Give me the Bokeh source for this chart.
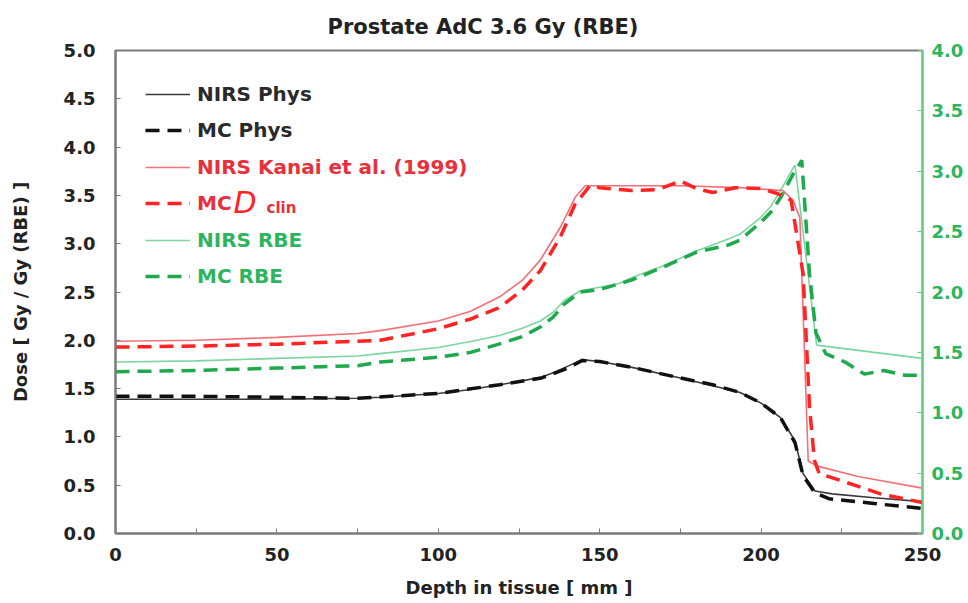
from bokeh.plotting import figure
from bokeh.models import (Range1d, LinearAxis, FixedTicker, Legend, LegendItem,
                          Label, NumeralTickFormatter)
from bokeh.embed import file_html
from bokeh.resources import INLINE

# ---------------- data ----------------
x_nirs_phys = [0, 25, 50, 75, 82, 100, 110, 119, 126, 132, 136, 140, 144.5, 150, 160, 175,
               185, 193.5, 200, 206, 210.5, 213, 216.7, 222, 235, 250]
y_nirs_phys = [1.39, 1.39, 1.39, 1.40, 1.41, 1.45, 1.49, 1.54, 1.58, 1.62, 1.67, 1.73, 1.80,
               1.78, 1.72, 1.61, 1.53, 1.46, 1.35, 1.20, 0.96, 0.62, 0.44, 0.41, 0.37, 0.33]

x_mc_phys = [0, 25, 50, 75, 100, 119, 132, 140, 144.5, 150, 160, 175, 185, 193.5, 200, 206,
             210.5, 213, 216.7, 221, 235, 250]
y_mc_phys = [1.42, 1.42, 1.41, 1.40, 1.45, 1.54, 1.61, 1.71, 1.79, 1.78, 1.72, 1.61, 1.54,
             1.46, 1.35, 1.20, 0.94, 0.60, 0.42, 0.36, 0.31, 0.26]

x_nirs_kanai = [0, 25, 50, 75, 82, 100, 110, 119, 126, 131.6, 137.8, 142.4, 145.5, 160, 175,
                193.5, 206.8, 209.9, 212, 214.6, 217.2, 230, 250]
y_nirs_kanai = [1.99, 2.00, 2.03, 2.07, 2.10, 2.20, 2.30, 2.45, 2.62, 2.83, 3.17, 3.48, 3.60,
                3.60, 3.60, 3.58, 3.55, 3.45, 3.27, 0.75, 0.70, 0.59, 0.47]

x_mc_dclin = [0, 25, 50, 75, 82, 100, 110, 119, 126, 131.6, 137.8, 142.4, 147, 150, 160, 168,
              175, 180, 185, 192, 200, 205, 209.3, 211.5, 213, 214, 215, 216.5, 218, 224.5,
              237, 250]
y_mc_dclin = [1.93, 1.94, 1.96, 1.99, 2.00, 2.12, 2.22, 2.34, 2.52, 2.72, 3.07, 3.41, 3.60,
              3.58, 3.55, 3.56, 3.65, 3.57, 3.53, 3.58, 3.57, 3.52, 3.45, 3.00, 2.69, 2.00,
              1.31, 0.76, 0.62, 0.55, 0.41, 0.32]

x_nirs_rbe = [0, 25, 50, 75, 82, 100, 110, 119, 126, 131.6, 135.5, 139, 144, 150, 156, 160,
              170, 180, 190, 193.5, 200, 203, 206, 210, 210.5, 217.2, 235, 250]
y_nirs_rbe = [1.42, 1.43, 1.45, 1.47, 1.49, 1.54, 1.59, 1.64, 1.70, 1.76, 1.83, 1.93, 2.01,
              2.04, 2.07, 2.12, 2.22, 2.34, 2.44, 2.48, 2.62, 2.71, 2.84, 3.03, 3.05, 1.56,
              1.50, 1.45]

x_mc_rbe = [0, 25, 50, 75, 82, 100, 110, 119, 126, 131.6, 135.5, 139, 144, 150, 160, 170, 180,
            190, 193.5, 200, 203, 206, 210, 212.6, 215, 217, 220, 226, 232, 238, 244.6, 250]
y_mc_rbe = [1.34, 1.35, 1.37, 1.39, 1.42, 1.46, 1.50, 1.57, 1.63, 1.71, 1.79, 1.90, 2.00, 2.02,
            2.10, 2.21, 2.33, 2.39, 2.43, 2.58, 2.66, 2.78, 2.98, 3.09, 2.15, 1.66, 1.49, 1.42,
            1.32, 1.35, 1.31, 1.31]

x_ticks = [0, 50, 100, 150, 200, 250]
x_minor_ticks = [25, 75, 125, 175, 225]
y_ticks = [0.0, 0.5, 1.0, 1.5, 2.0, 2.5, 3.0, 3.5, 4.0, 4.5, 5.0]
y2_ticks = [0.0, 0.5, 1.0, 1.5, 2.0, 2.5, 3.0, 3.5, 4.0]

title_text = "Prostate AdC 3.6 Gy (RBE)"
x_label = "Depth in tissue [ mm ]"
y_label = "Dose [ Gy / Gy (RBE) ]"

# ---------------- style ----------------
FONT = "DejaVu Sans"
GRAY = "#7a7a7a"
BLACK_SOLID = "#3a3a3a"
BLACK_DASH = "#111111"
RED_SOLID = "#f47078"
RED_DASH = "#ff2323"
RED_TEXT = "#e8303c"
GREEN_SOLID = "#7cd6a0"
GREEN_DASH = "#1fa84c"
GREEN_TEXT = "#2db55d"
GREEN_AXIS = "#66cc88"
DASH = "14 8"

p = figure(width=968, height=603, output_backend="svg", toolbar_location=None,
           x_range=Range1d(0, 250), y_range=Range1d(0, 5),
           min_border_left=115, min_border_right=46, min_border_top=50,
           min_border_bottom=70, y_axis_location=None, x_axis_location=None)
p.extra_y_ranges = {"rbe": Range1d(0, 4)}
p.xgrid.visible = False
p.ygrid.visible = False
p.outline_line_color = GRAY
p.outline_line_width = 2
p.background_fill_color = "white"
p.border_fill_color = "white"

# title
p.title.text = title_text
p.title.text_font = FONT
p.title.text_font_style = "bold"
p.title.text_font_size = "21px"
p.title.text_color = "#222222"
p.title.align = "left"
p.title.offset = 212
p.title.standoff = 24

def style_axis(ax, color, label_color):
    ax.axis_line_color = color
    ax.axis_line_width = 2
    ax.major_tick_line_color = color
    ax.minor_tick_line_color = color
    ax.major_tick_in = 5
    ax.major_tick_out = 0
    ax.minor_tick_in = 5
    ax.minor_tick_out = 0
    ax.major_label_text_font = FONT
    ax.major_label_text_font_style = "bold"
    ax.major_label_text_font_size = "18px"
    ax.major_label_text_color = label_color
    ax.axis_label_text_font = FONT
    ax.axis_label_text_font_style = "bold"
    ax.axis_label_text_font_size = "18px"
    ax.axis_label_text_color = "#222222"

xaxis = LinearAxis(ticker=FixedTicker(ticks=x_ticks, minor_ticks=x_minor_ticks),
                   axis_label=x_label)
style_axis(xaxis, GRAY, "#222222")
xaxis.major_label_standoff = 14
xaxis.axis_label_standoff = 13
p.add_layout(xaxis, "below")

yaxis = LinearAxis(ticker=FixedTicker(ticks=y_ticks), axis_label=y_label,
                   formatter=NumeralTickFormatter(format="0.0"))
style_axis(yaxis, GRAY, "#222222")
yaxis.minor_tick_in = 0
yaxis.major_label_standoff = 20
yaxis.axis_label_standoff = 30
p.add_layout(yaxis, "left")

y2axis = LinearAxis(y_range_name="rbe", ticker=FixedTicker(ticks=y2_ticks),
                    formatter=NumeralTickFormatter(format="0.0"))
style_axis(y2axis, GREEN_AXIS, GREEN_TEXT)
y2axis.axis_line_width = 1.5
y2axis.minor_tick_in = 0
y2axis.major_label_standoff = 9
p.add_layout(y2axis, "right")

# lines
r_nirs_rbe = p.line(x_nirs_rbe, y_nirs_rbe, y_range_name="rbe", line_color=GREEN_SOLID,
                    line_width=1.6)
r_mc_rbe = p.line(x_mc_rbe, y_mc_rbe, y_range_name="rbe", line_color=GREEN_DASH,
                  line_width=3.5, line_dash=DASH)
r_nirs_phys = p.line(x_nirs_phys, y_nirs_phys, line_color=BLACK_SOLID, line_width=1.6)
r_mc_phys = p.line(x_mc_phys, y_mc_phys, line_color=BLACK_DASH, line_width=3.5,
                   line_dash=DASH)
r_nirs_kanai = p.line(x_nirs_kanai, y_nirs_kanai, line_color=RED_SOLID, line_width=1.6)
r_mc_dclin = p.line(x_mc_dclin, y_mc_dclin, line_color=RED_DASH, line_width=3.5,
                    line_dash=DASH)

# legend: one per row so each label gets its own colour
entries = [
    (r_nirs_phys, "NIRS Phys", "#2a2a2a"),
    (r_mc_phys, "MC Phys", "#2a2a2a"),
    (r_nirs_kanai, "NIRS Kanai et al. (1999)", RED_TEXT),
    (r_mc_dclin, "MC", RED_TEXT),
    (r_nirs_rbe, "NIRS RBE", GREEN_TEXT),
    (r_mc_rbe, "MC RBE", GREEN_TEXT),
]
ROW0 = 427
STEP = 36.4
for i, (r, lab, col) in enumerate(entries):
    lg = Legend(items=[LegendItem(label=lab, renderers=[r])],
                location=(30, ROW0 - i * STEP),
                glyph_width=45, glyph_height=20, label_height=20,
                label_standoff=7, padding=0, margin=0, spacing=0,
                border_line_color=None, background_fill_alpha=0,
                label_text_font=FONT, label_text_font_style="bold",
                label_text_font_size="20px", label_text_color=col)
    p.add_layout(lg)

# "D_clin" part of the MC D_clin label
row_mid = ROW0 - 3 * STEP + 10
p.add_layout(Label(x=118, y=row_mid + 3.5, x_units="screen", y_units="screen", text="D",
                   text_font=FONT, text_font_style="italic", text_font_size="30px",
                   text_color=RED_DASH, text_baseline="middle"))
p.add_layout(Label(x=151, y=row_mid - 1.8, x_units="screen", y_units="screen", text="clin",
                   text_font=FONT, text_font_style="bold", text_font_size="15px",
                   text_color=RED_TEXT, text_baseline="middle"))

open("out.html", "w").write(file_html(p, INLINE))
